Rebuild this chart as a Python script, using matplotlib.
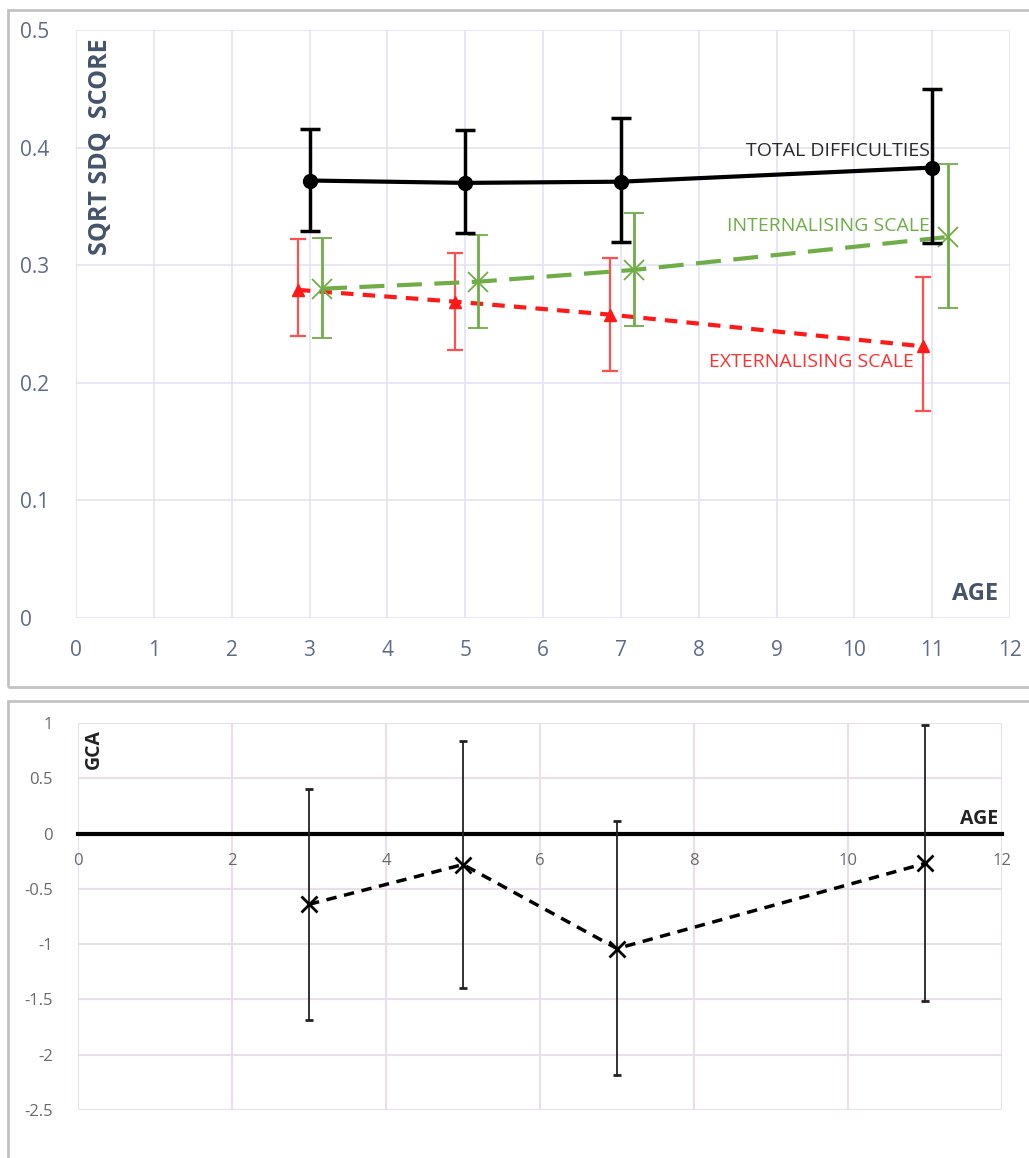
"""SDQ scores and GCA by age, two stacked panels."""

from matplotlib import pyplot as plt
from matplotlib.patches import Rectangle
import numpy as np

plt.rcParams["font.family"] = ["Open Sans", "DejaVu Sans"]

# top panel: sqrt SDQ scores
ages = [3, 5, 7, 11]
total = [0.372, 0.370, 0.371, 0.383]
total_hi = [0.416, 0.415, 0.425, 0.450]
total_lo = [0.329, 0.327, 0.320, 0.319]

int_ages = [3.16, 5.17, 7.17, 11.2]
internal = [0.280, 0.286, 0.296, 0.324]
internal_hi = [0.323, 0.326, 0.344, 0.386]
internal_lo = [0.238, 0.247, 0.248, 0.264]

ext_ages = [2.85, 4.87, 6.86, 10.88]
external = [0.279, 0.269, 0.258, 0.231]
external_hi = [0.322, 0.310, 0.306, 0.290]
external_lo = [0.240, 0.228, 0.210, 0.176]

# bottom panel: GCA
gca = [-0.64, -0.28, -1.04, -0.27]
gca_hi = [0.40, 0.84, 0.11, 0.98]
gca_lo = [-1.69, -1.40, -2.18, -1.51]

top_ticks = [0, 0.1, 0.2, 0.3, 0.4, 0.5]
bottom_ticks = [1, 0.5, 0, -0.5, -1, -1.5, -2, -2.5]

W, H = 1029, 1158
fig = plt.figure(figsize=(W / 100, H / 100), dpi=100)

# panel frames
fig.patches.append(Rectangle((8 / W, 1 - 687 / H), 1.1, (687 - 10) / H,
                             transform=fig.transFigure, fill=False,
                             edgecolor="#c3c3c3", lw=2))
fig.patches.append(Rectangle((8 / W, -0.1), 1.1, 0.1 + (1158 - 701) / H,
                             transform=fig.transFigure, fill=False,
                             edgecolor="#c3c3c3", lw=2))


def yerr(vals, hi, lo):
    v = np.array(vals)
    return [v - np.array(lo), np.array(hi) - v]


# ---- top panel
ax = fig.add_axes([76 / W, 1 - 618 / H, (1010 - 76) / W, (618 - 30) / H])
tick_col = "#5d6b87"
title_col = "#44546a"

ax.errorbar(ext_ages, external, yerr=yerr(external, external_hi, external_lo),
            color="#ff1a1a", lw=3, ls=(0, (3, 2.2)), marker="^", ms=9,
            ecolor="#ff5050", elinewidth=1.6, capsize=6, capthick=1.6, zorder=3)
ax.errorbar(int_ages, internal, yerr=yerr(internal, internal_hi, internal_lo),
            color="#70ad47", lw=3, ls=(0, (6, 3)), marker="x", ms=15, mew=1.3,
            ecolor="#70ad47", elinewidth=2, capsize=7, capthick=2, zorder=4)
ax.errorbar(ages, total, yerr=yerr(total, total_hi, total_lo),
            color="black", lw=3, marker="o", ms=10,
            ecolor="black", elinewidth=2.5, capsize=7, capthick=2.5, zorder=5)

ax.text(10.97, 0.397, "TOTAL DIFFICULTIES", color="#2b2b2b", fontsize=14,
        ha="right", va="center")
ax.text(10.97, 0.333, "INTERNALISING SCALE", color="#70ad47", fontsize=14,
        ha="right", va="center")
ax.text(10.77, 0.218, "EXTERNALISING SCALE", color="#ff3030", fontsize=14,
        ha="right", va="center")
ax.text(0.32, 0.493, "SQRT SDQ  SCORE", rotation=90, color=title_col,
        fontsize=18, fontweight="bold", ha="center", va="top")
ax.text(11.85, 0.01, "AGE", color=title_col, fontsize=17, fontweight="bold",
        ha="right", va="bottom")

ax.set_xlim(0, 12)
ax.set_ylim(0, 0.5)
ax.set_xticks(range(13))
ax.set_yticks(top_ticks)
ax.set_yticklabels([f"{t:g}" for t in top_ticks])
ax.tick_params(length=0, labelsize=15, colors=tick_col)
ax.tick_params(axis="x", pad=16)
ax.tick_params(axis="y", pad=40)
for lbl in ax.get_yticklabels():
    lbl.set_horizontalalignment("left")
ax.grid(True, color="#e3e3f3", lw=1.2)
ax.set_axisbelow(True)
for s in ax.spines.values():
    s.set_visible(False)

# ---- bottom panel
bx = fig.add_axes([78 / W, 1 - 1110 / H, (1002 - 78) / W, (1110 - 723) / H])
bx.errorbar(ages, gca, yerr=yerr(gca, gca_hi, gca_lo),
            color="black", lw=2.5, ls=(0, (3, 2.2)), marker="x", ms=11, mew=2,
            ecolor="#222222", elinewidth=1.3, capsize=3, capthick=1.3, zorder=4)

bx.set_xlim(0, 12)
bx.set_ylim(-2.5, 1)
bx.set_xticks(range(0, 13, 2))
bx.set_yticks(bottom_ticks)
bx.set_yticklabels([f"{t:g}" for t in bottom_ticks])
bx.spines["bottom"].set_position(("data", 0))
bx.spines["bottom"].set_linewidth(3)
bx.spines["bottom"].set_color("black")
bx.spines["bottom"].set_zorder(3)
for s in ["top", "right", "left"]:
    bx.spines[s].set_visible(False)
bx.tick_params(length=0, labelsize=12, colors="#6a6a6a")
bx.tick_params(axis="x", pad=14)
bx.tick_params(axis="y", pad=18)
bx.grid(True, color="#e8dfe8", lw=1.5)
bx.set_axisbelow(True)

bx.text(0.2, 0.95, "GCA", rotation=90, fontsize=14, fontweight="bold",
        color="#222222", ha="center", va="top")
bx.text(11.95, 0.04, "AGE", fontsize=14, fontweight="bold", color="#222222",
        ha="right", va="bottom")

fig.savefig("out.png", dpi=100, facecolor="white")
